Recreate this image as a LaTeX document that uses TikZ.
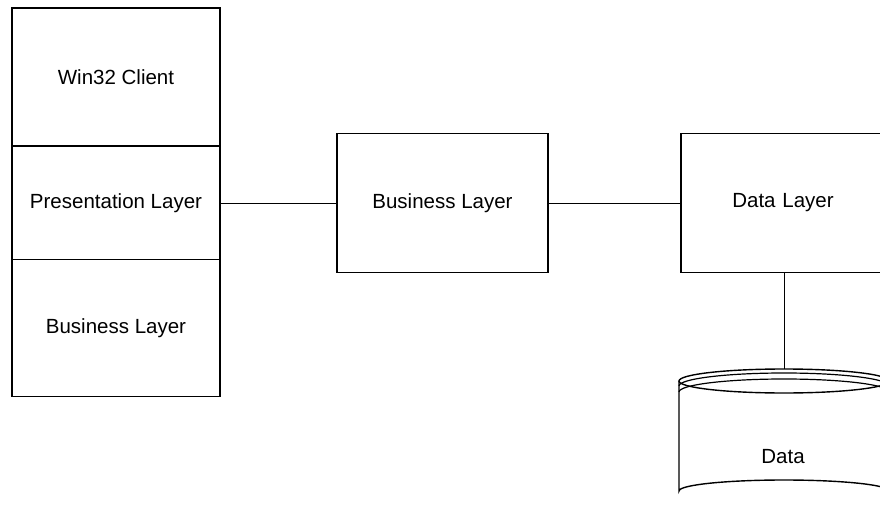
\documentclass[tikz,border=0pt]{standalone}
\usepackage{fontspec}
\setmainfont{Liberation Sans}
\begin{document}
\begin{tikzpicture}[x=1pt,y=-1pt,
  box/.style={draw=black,line width=1.8pt,minimum width=#1,inner sep=0pt,font=\fontsize{20.5}{24}\selectfont},
  conn/.style={draw=black,line width=1pt},
  lbl/.style={font=\fontsize{20.5}{24}\selectfont}]
\useasboundingbox (0,0) rectangle (880,505);
\begin{scope}
\clip (0,0) rectangle (880,505);
% left stack
\node[box=208pt,minimum height=138pt] (win) at (116,77) {Win32 Client};
\node[box=208pt,minimum height=113pt] (pres) at (116,203) {Presentation Layer};
\node[box=208pt,minimum height=137pt] (blay) at (116,328) {Business Layer};
% middle
\node[box=211pt,minimum height=139pt] (bus) at (442.5,203) {Business Layer};
% data layer
\node[box=204pt,minimum height=139pt,text width=204pt,align=center] (dl) at (783,203) {Data Layer};
% cylinder
\coordinate (cyltop) at (784,369);
\draw[line width=1.4pt,fill=white] (679,381) -- (679,491) arc[start angle=180,end angle=360,x radius=105,y radius=11] -- (889,381);
\draw[line width=1.4pt] (784,381) ellipse[x radius=105,y radius=12];
\draw[line width=1.2pt] (679,386) arc[start angle=180,end angle=360,x radius=105,y radius=13];
\draw[line width=1.2pt] (679,392) arc[start angle=180,end angle=360,x radius=105,y radius=13];
\node[lbl] (data) at (783,457) {Data};
\end{scope}
% connectors
\draw[conn] (pres.east) -- (bus.west);
\draw[conn] (bus.east) -- (dl.west);
\draw[conn] (dl.south -| cyltop) -- (cyltop);
\end{tikzpicture}
\end{document}
